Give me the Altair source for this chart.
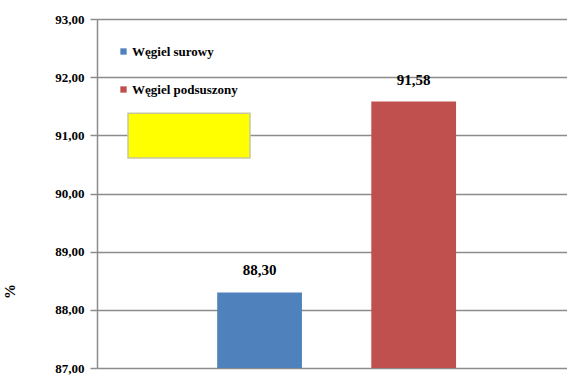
import altair as alt
import pandas as pd

categories = ["Węgiel surowy", "Węgiel podsuszony"]
values = [88.30, 91.58]
colors = ["#4F81BD", "#C0504D"]
y_ticks = [87, 88, 89, 90, 91, 92, 93]
box_y = [90.61, 91.38]

df = pd.DataFrame({"cat": categories, "val": values})
box = pd.DataFrame({"y1": [box_y[0]], "y2": [box_y[1]]})

font = "Liberation Serif"

yscale = alt.Scale(domain=[87, 93], nice=False, zero=False)
xscale = alt.Scale(domain=categories, paddingInner=0.45, paddingOuter=0.75, align=0.52)

bars = alt.Chart(df).mark_bar().encode(
    x=alt.X("cat:N", scale=xscale, axis=None, sort=categories),
    y=alt.Y("val:Q", scale=yscale,
            axis=alt.Axis(values=y_ticks, format=".2f", title="%",
                          titleAngle=-90, titleX=-80, titleY=272,
                          titleFont=font, titleFontSize=15, titleFontWeight="bold",
                          labelFont=font, labelFontSize=13, labelFontWeight="bold",
                          labelColor="#000", labelPadding=6,
                          domainColor="#8c8c8c", domainWidth=1.5,
                          tickColor="#8c8c8c", tickSize=7, tickWidth=1.5,
                          gridColor="#8c8c8c", gridWidth=1.5)),
    y2=alt.datum(87),
    color=alt.Color("cat:N", scale=alt.Scale(domain=categories, range=colors),
                    sort=categories,
                    legend=alt.Legend(orient="none", legendX=20, legendY=26,
                                      title=None, symbolType="square", symbolSize=40,
                                      symbolStrokeWidth=0,
                                      labelFont=font, labelFontSize=13,
                                      labelFontWeight="bold", labelColor="#000",
                                      rowPadding=24, labelOffset=2)),
)

labels = alt.Chart(df).mark_text(dy=-22, font=font, fontSize=15, fontWeight="bold",
                                 color="#000").encode(
    x=alt.X("cat:N", scale=xscale, sort=categories),
    y=alt.Y("val:Q", scale=yscale),
    text=alt.Text("val:Q", format=".2f"),
)

yellow = alt.Chart(box).mark_rect(color="#FFFF00", stroke="#C8C8A0", strokeWidth=1.5).encode(
    x=alt.value(31), x2=alt.value(153),
    y=alt.Y("y1:Q", scale=yscale), y2="y2:Q",
)

chart = alt.layer(bars, yellow, labels).properties(
    width=470, height=349,
    autosize=alt.AutoSizeParams(type="none"),
    padding={"left": 97, "top": 19, "right": 0, "bottom": 8},
).configure(
    locale={"number": {"decimal": ",", "thousands": " ", "grouping": [3], "currency": ["", " zł"]}}
).configure_view(stroke=None)

chart.save("out.html", embed_options={"renderer": "svg", "actions": False})
